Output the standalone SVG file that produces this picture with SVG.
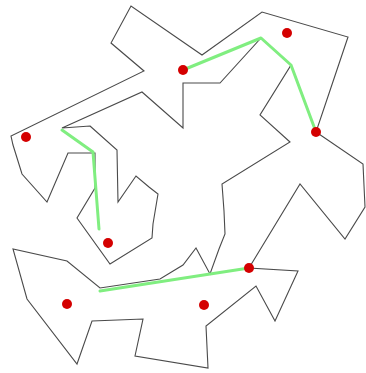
<svg xmlns="http://www.w3.org/2000/svg" width="366" height="373" viewBox="0 0 366 373">
<style>
.wall{fill:none;stroke:#4a4a4a;stroke-width:1.1;stroke-linejoin:miter}
.path{fill:none;stroke:#80ee80;stroke-width:3;stroke-linecap:round;stroke-linejoin:round}
.dot{fill:#d40000}
</style>
<rect width="366" height="373" fill="#fff"/>
<g id="outline">
<polygon class="wall" points="90,126 117,150 118,202 136,176 149,187 158,194 153,224 152,238 110,264 77,218 95,188 95,153 68,153 47,202 22,174 13,145 11,136 144,71 111,43 131,6 202,55 262,12 348,37 316,132 363,164 365,207 345,239 300,184 249,268 298,271 275,321 256,286 206,326 208,368 135,356 143,319 92,321 77,364 27,299 13,249 67,261 100,288 160,279 183,265 196,248 210,274 219,249 225,234 224,211 222,184 290,142 260,115 291,65 261,38 220,83 183,83 183,128 142,92 62,128"/>
</g>
<g id="paths">
<polyline class="path" points="183,70 261,38 291,65 316,132"/>
<polyline class="path" points="62,130 93,152 99,229"/>
<polyline class="path" points="100,291 249,268"/>
</g>
<g id="points">
<circle class="dot" cx="183" cy="70" r="5"/>
<circle class="dot" cx="287" cy="33" r="5"/>
<circle class="dot" cx="316" cy="132" r="5"/>
<circle class="dot" cx="26" cy="137" r="5"/>
<circle class="dot" cx="108" cy="243" r="5"/>
<circle class="dot" cx="249" cy="268" r="5"/>
<circle class="dot" cx="67" cy="304" r="5"/>
<circle class="dot" cx="204" cy="305" r="5"/>
</g>
</svg>
